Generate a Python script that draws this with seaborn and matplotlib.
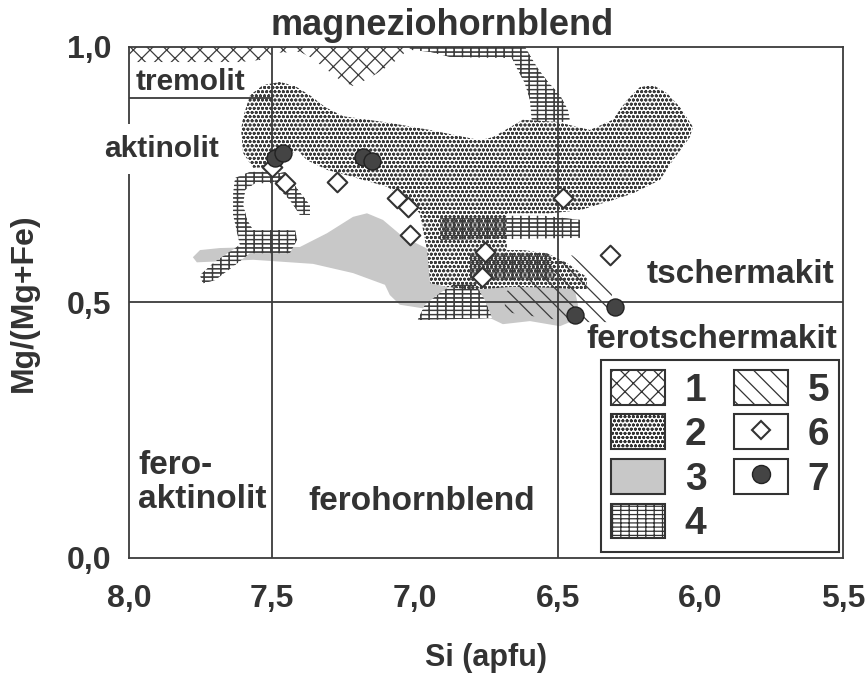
import matplotlib
matplotlib.use('Agg')
import matplotlib.pyplot as plt
from matplotlib.patches import Patch
from matplotlib.lines import Line2D
from matplotlib.legend_handler import HandlerTuple
import seaborn as sns

# ------------------Data: Si (apfu) vs Mg/(Mg+Fe)------------------
# field 1
field1_si = [8.0, 7.018, 7.053, 7.105, 7.158, 7.217, 7.263, 7.315, 7.368, 7.403, 7.490, 7.543, 7.613, 7.753, 7.893, 8.0]
field1_mg = [1.0, 1.0, 0.978, 0.958, 0.939, 0.923, 0.935, 0.958, 0.980, 0.990, 0.988, 0.974, 0.970, 0.970, 0.970, 0.970]

# field 2
field2_si = [7.602, 7.578, 7.532, 7.473, 7.420, 7.368, 7.315, 7.252, 7.088, 6.947, 6.772, 6.727, 6.622, 6.503,
             6.387, 6.307, 6.257, 6.212, 6.166, 6.117, 6.072, 6.026, 6.037, 6.096, 6.142, 6.236, 6.306, 6.422,
             6.527, 6.678, 6.678, 6.622, 6.538, 6.468, 6.398, 6.398, 6.517, 6.657, 6.797, 6.888, 6.947, 6.958,
             6.983, 7.042, 7.098, 7.217, 7.308, 7.378, 7.413, 7.448, 7.483, 7.567, 7.602, 7.609]
field2_mg = [0.862, 0.905, 0.925, 0.931, 0.923, 0.905, 0.882, 0.864, 0.851, 0.837, 0.817, 0.823, 0.857, 0.853,
             0.837, 0.857, 0.896, 0.921, 0.925, 0.909, 0.882, 0.843, 0.823, 0.778, 0.739, 0.713, 0.700, 0.680,
             0.674, 0.674, 0.602, 0.602, 0.596, 0.577, 0.549, 0.524, 0.528, 0.530, 0.524, 0.530, 0.537, 0.602,
             0.674, 0.706, 0.726, 0.745, 0.759, 0.778, 0.798, 0.784, 0.765, 0.763, 0.792, 0.837]

# field 3
field3_si = [7.778, 7.753, 7.683, 7.543, 7.403, 7.308, 7.217, 7.168, 7.112, 7.042, 6.983, 6.912, 6.772, 6.562,
             6.440, 6.429, 6.440, 6.492, 6.597, 6.692, 6.737, 6.983, 7.053, 7.088, 7.105, 7.217, 7.357, 7.567, 7.764]
field3_mg = [0.588, 0.602, 0.606, 0.608, 0.608, 0.635, 0.667, 0.674, 0.661, 0.628, 0.612, 0.592, 0.573, 0.553,
             0.524, 0.495, 0.465, 0.453, 0.463, 0.457, 0.469, 0.489, 0.495, 0.514, 0.534, 0.557, 0.575, 0.583, 0.578]

# field 4 (several separate parts)
field4_top_si = [7.018, 6.615, 6.573, 6.534, 6.492, 6.464, 6.457, 6.590, 6.597, 6.615, 6.643, 6.660, 6.877, 6.947, 7.018]
field4_top_mg = [1.0, 1.0, 0.960, 0.931, 0.905, 0.876, 0.853, 0.853, 0.896, 0.929, 0.958, 0.978, 0.980, 0.990, 0.994]
field4_left_si = [7.630, 7.578, 7.501, 7.490, 7.560, 7.595, 7.602, 7.588, 7.567, 7.420, 7.413, 7.438, 7.578,
                  7.630, 7.701, 7.743, 7.753, 7.701, 7.613, 7.623, 7.637, 7.637]
field4_left_mg = [0.743, 0.755, 0.755, 0.733, 0.733, 0.720, 0.690, 0.661, 0.641, 0.641, 0.622, 0.596, 0.596,
                  0.573, 0.543, 0.537, 0.553, 0.579, 0.612, 0.637, 0.671, 0.710]
field4_arm_si = [7.501, 7.455, 7.410, 7.368, 7.368, 7.403, 7.438, 7.480]
field4_arm_mg = [0.749, 0.755, 0.720, 0.690, 0.671, 0.671, 0.700, 0.724]
field4_mid_si = [6.912, 6.545, 6.422, 6.422, 6.912]
field4_mid_mg = [0.669, 0.669, 0.661, 0.626, 0.622]
field4_low_si = [6.807, 6.527, 6.510, 6.807]
field4_low_mg = [0.596, 0.596, 0.543, 0.543]
field4_base_si = [6.860, 6.790, 6.755, 6.730, 6.990, 6.965, 6.912]
field4_base_mg = [0.537, 0.537, 0.504, 0.469, 0.465, 0.495, 0.518]

# field 5
field5_si = [6.685, 6.562, 6.450, 6.310, 6.310, 6.440, 6.545, 6.685]
field5_mg = [0.520, 0.555, 0.592, 0.528, 0.461, 0.461, 0.469, 0.481]

# analysed amphiboles
amph6_si = [7.501, 7.455, 7.273, 7.063, 7.025, 7.018, 6.755, 6.765, 6.482, 6.317]
amph6_mg = [0.765, 0.733, 0.735, 0.704, 0.686, 0.632, 0.598, 0.549, 0.704, 0.592]
amph7_si = [7.490, 7.462, 7.182, 7.151, 6.440, 6.300]
amph7_mg = [0.782, 0.792, 0.784, 0.776, 0.475, 0.491]

# classification boundaries
si_bounds = [7.5, 6.5]
mg_bound = 0.5
tremolit_mg = 0.9

x_ticks = [8.0, 7.5, 7.0, 6.5, 6.0, 5.5]
x_tick_labels = ['8,0', '7,5', '7,0', '6,5', '6,0', '5,5']
y_ticks = [0.0, 0.5, 1.0]
y_tick_labels = ['0,0', '0,5', '1,0']

legend_labels = ['1', '2', '3', '4', '5', '6', '7']

# ------------------Styling------------------
sns.set_theme(style='white')
plt.rcParams['font.family'] = ['Liberation Sans', 'DejaVu Sans']
plt.rcParams['font.weight'] = 'bold'
plt.rcParams['hatch.linewidth'] = 0.9

ink = '#333333'
line_c = '#3c3c3c'
gray3 = '#c8c8c8'
h1, h2, h4, h5 = 'xx', 'oooo', '--++', '\\\\'

fig = plt.figure(figsize=(8.65, 6.81), dpi=100)
ax = fig.add_axes([0.1497, 0.1811, 0.8250, 0.7503])

# fields
ax.fill(field3_si, field3_mg, facecolor=gray3, edgecolor='none', lw=0, zorder=1.5)
field4_parts = [(field4_top_si, field4_top_mg), (field4_left_si, field4_left_mg), (field4_arm_si, field4_arm_mg),
                (field4_mid_si, field4_mid_mg), (field4_low_si, field4_low_mg), (field4_base_si, field4_base_mg)]
for si, mg in field4_parts:
    ax.fill(si, mg, facecolor='white', edgecolor=line_c, hatch=h4, lw=0, zorder=1.6)
ax.fill(field2_si, field2_mg, facecolor='white', edgecolor=line_c, hatch=h2, lw=0, zorder=2)
for si, mg in field4_parts:
    ax.fill(si, mg, facecolor='none', edgecolor=line_c, hatch=h4, lw=0, zorder=2.1)
ax.fill(field1_si, field1_mg, facecolor='white', edgecolor=line_c, hatch=h1, lw=0, zorder=2)
ax.fill(field5_si, field5_mg, facecolor='none', edgecolor=line_c, hatch=h5, lw=0, zorder=2.2)

# boundaries
for si in si_bounds:
    ax.axvline(si, color=line_c, lw=1.3, zorder=4)
ax.axhline(mg_bound, color=line_c, lw=1.3, zorder=4)
ax.plot([8.0, 7.5], [tremolit_mg, tremolit_mg], color=line_c, lw=1.3, zorder=4)

# points
sns.scatterplot(x=amph6_si, y=amph6_mg, marker='D', s=100, color='white', edgecolor=ink, linewidth=1.5,
                zorder=5, ax=ax)
sns.scatterplot(x=amph7_si, y=amph7_mg, marker='o', s=150, color='#444444', edgecolor='#222222', linewidth=1,
                zorder=5, ax=ax)

ax.set_xlim(8.0, 5.5)
ax.set_ylim(0.0, 1.0)
ax.set_xticks(x_ticks)
ax.set_xticklabels(x_tick_labels)
ax.set_yticks(y_ticks)
ax.set_yticklabels(y_tick_labels)
ax.tick_params(axis='x', direction='out', length=8, width=1.3, color=line_c, pad=11, labelsize=23, labelcolor=ink)
ax.tick_params(axis='y', direction='out', length=9, width=1.3, color=line_c, pad=4, labelsize=23, labelcolor=ink)
for s in ax.spines.values():
    s.set_color(line_c)
    s.set_linewidth(1.3)
ax.set_xlabel('Si (apfu)', fontsize=22, color=ink, fontweight='bold', labelpad=21)
ax.set_ylabel('Mg/(Mg+Fe)', fontsize=23, color=ink, fontweight='bold', labelpad=20)

# region names
ax.text(7.788, 0.915, 'tremolit', fontsize=21.5, ha='center', va='baseline', color=ink, zorder=6)
ax.text(7.888, 0.784, 'aktinolit', fontsize=21.5, ha='center', va='baseline', color=ink, zorder=6,
        bbox=dict(facecolor='white', edgecolor='none', pad=8), clip_on=False)
ax.text(7.970, 0.211, 'fero-\naktinolit', fontsize=24, ha='left', va='top', color=ink, linespacing=1.15, zorder=6)
ax.text(6.977, 0.093, 'ferohornblend', fontsize=24, ha='center', va='baseline', color=ink, zorder=6)
ax.text(5.532, 0.537, 'tschermakit', fontsize=24, ha='right', va='baseline', color=ink, zorder=6)
ax.text(5.522, 0.410, 'ferotschermakit', fontsize=24, ha='right', va='baseline', color=ink, zorder=6)
ax.text(6.904, 1.023, 'magneziohornblend', fontsize=26, ha='center', va='baseline', color=ink, zorder=6,
        clip_on=False)

# legend
frame = dict(facecolor='white', edgecolor=ink, lw=1.5)
handles = [
    Patch(hatch=h1, **frame),
    Patch(hatch=h2, **frame),
    Patch(facecolor=gray3, edgecolor=ink, lw=1.5),
    Patch(hatch=h4, **frame),
    Patch(hatch=h5, **frame),
    (Patch(**frame), Line2D([], [], marker='D', ms=9, mfc='white', mec=ink, mew=1.5, ls='none')),
    (Patch(**frame), Line2D([], [], marker='o', ms=13, mfc='#444444', mec='#222222', ls='none')),
]
leg = ax.legend(handles, legend_labels, ncol=2, loc='lower right', bbox_to_anchor=(0.994, 0.011),
                borderaxespad=0, fontsize=28, handlelength=1.4, handleheight=1.0, handletextpad=0.5,
                columnspacing=0.7, labelspacing=0.15, borderpad=0.25, fancybox=False, framealpha=1,
                edgecolor=ink, handler_map={tuple: HandlerTuple(ndivide=1)})
leg.get_frame().set_linewidth(1.5)
for t in leg.get_texts():
    t.set_color(ink)
    t.set_fontweight('bold')
leg.set_zorder(7)

fig.savefig('out.png', dpi=100)
